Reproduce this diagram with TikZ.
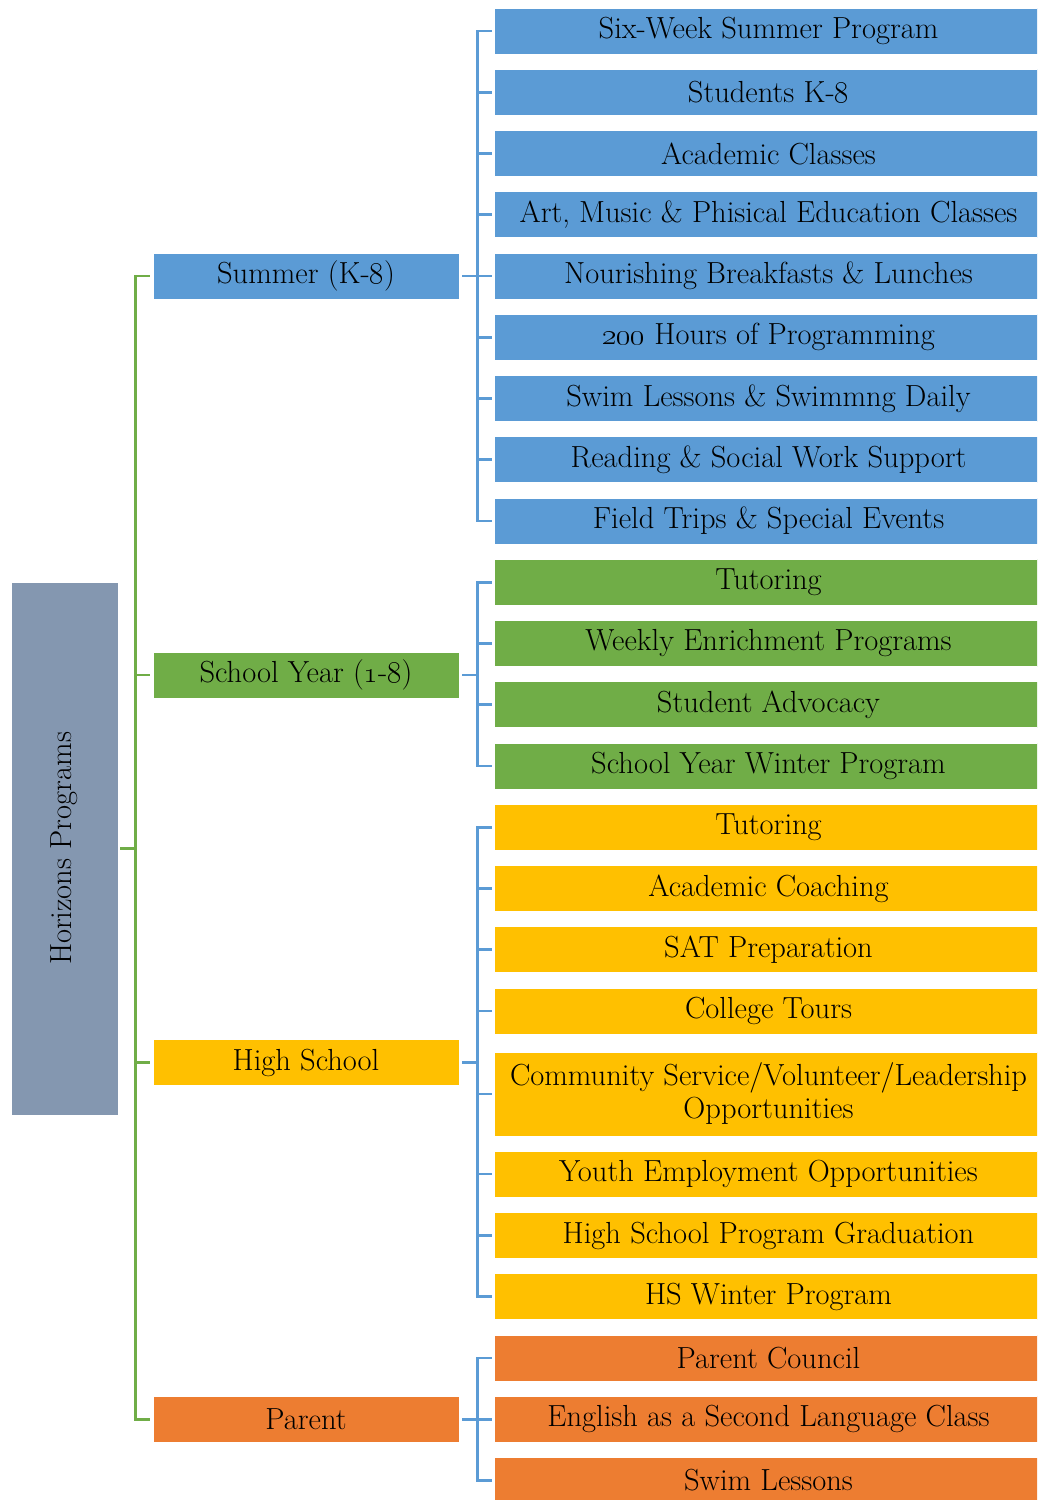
\RequirePackage{fix-cm}
\documentclass[tikz,border=0pt]{standalone}
\usepackage{tikz}

\definecolor{hpblue}{HTML}{5B9BD5}
\definecolor{hpgreen}{HTML}{70AD47}
\definecolor{hpgold}{HTML}{FFC000}
\definecolor{hporange}{HTML}{ED7D31}
\definecolor{hpslate}{HTML}{8497B0}

\begin{document}
\begin{tikzpicture}[
        x=1pt, y=-1pt,
        every node/.style={font=\fontsize{30.5pt}{33pt}\selectfont, text=black, align=center},
        box/.style={draw=white, line width=0.8pt, inner sep=0pt, minimum height=46pt},
        toplevel/.style={box, minimum width=306pt},
        item/.style={box, minimum width=549pt},
        greenline/.style={draw=hpgreen, line width=2.6pt},
        blueline/.style={draw=hpblue, line width=2.6pt}
    ]
        \clip (0,0) rectangle (1037,1500);
        \useasboundingbox (0,0) rectangle (1037,1500);

        % --- Root ---
        \node[box, fill=hpslate, minimum width=107pt, minimum height=533pt] (hp) at (64.5, 848.5) {};
        \node[rotate=90] (hptext) at (hp.center) {Horizons Programs};

        % --- Programs ---
        \node[toplevel, fill=hpblue] (summer) at (306, 276) {Summer (K-\oldstylenums{8})};
        \node[toplevel, fill=hpgreen] (schoolyr) at (306, 675) {School Year (\oldstylenums{1}-\oldstylenums{8})};
        \node[toplevel, fill=hpgold] (highsch) at (306, 1062.5) {High School};
        \node[toplevel, fill=hporange] (parent) at (306, 1419.25) {Parent};

        % --- Summer items ---
        \node[item, fill=hpblue] (s1) at (768.5, 31) {Six-Week Summer Program};
        \node[item, fill=hpblue] (s2) at (768.5, 92.25) {Students K-\oldstylenums{8}};
        \node[item, fill=hpblue] (s3) at (768.5, 153.5) {Academic Classes};
        \node[item, fill=hpblue] (s4) at (768.5, 214.75) {Art, Music \& Phisical Education Classes};
        \node[item, fill=hpblue] (s5) at (768.5, 276) {Nourishing Breakfasts \& Lunches};
        \node[item, fill=hpblue] (s6) at (768.5, 337.25) {\oldstylenums{200} Hours of Programming};
        \node[item, fill=hpblue] (s7) at (768.5, 398.5) {Swim Lessons \& Swimmng Daily};
        \node[item, fill=hpblue] (s8) at (768.5, 459.75) {Reading \& Social Work Support};
        \node[item, fill=hpblue] (s9) at (768.5, 521) {Field Trips \& Special Events};

        % --- School year items ---
        \node[item, fill=hpgreen] (y1) at (768.5, 582.25) {Tutoring};
        \node[item, fill=hpgreen] (y2) at (768.5, 643.5) {Weekly Enrichment Programs};
        \node[item, fill=hpgreen] (y3) at (768.5, 704.75) {Student Advocacy};
        \node[item, fill=hpgreen] (y4) at (768.5, 766) {School Year Winter Program};

        % --- High school items ---
        \node[item, fill=hpgold] (h1) at (768.5, 827.25) {Tutoring};
        \node[item, fill=hpgold] (h2) at (768.5, 888.5) {Academic Coaching};
        \node[item, fill=hpgold] (h3) at (768.5, 949.75) {SAT Preparation};
        \node[item, fill=hpgold] (h4) at (768.5, 1011) {College Tours};
        \node[item, fill=hpgold, minimum height=84pt] (h5) at (768.5, 1094) {Community Service/Volunteer/Leadership\\Opportunities};
        \node[item, fill=hpgold] (h6) at (768.5, 1174) {Youth Employment Opportunities};
        \node[item, fill=hpgold] (h7) at (768.5, 1235.5) {High School Program Graduation};
        \node[item, fill=hpgold] (h8) at (768.5, 1296.75) {HS Winter Program};

        % --- Parent items ---
        \node[item, fill=hporange] (p1) at (768.5, 1358) {Parent Council};
        \node[item, fill=hporange] (p2) at (768.5, 1419.25) {English as a Second Language Class};
        \node[item, fill=hporange] (p3) at (768.5, 1480.5) {Swim Lessons};

        % --- Root connectors ---
        \draw[greenline] ([xshift=2pt]hp.east) -- ([xshift=17pt]hp.east);
        \draw[greenline] ([xshift=-3pt]summer.west) -| ([xshift=17pt]hp.east)
            ([xshift=-3pt]schoolyr.west) -| ([xshift=17pt]hp.east)
            ([xshift=-3pt]highsch.west) -| ([xshift=17pt]hp.east)
            ([xshift=-3pt]parent.west) -| ([xshift=17pt]hp.east);

        % --- Summer connectors ---
        \draw[blueline] ([xshift=3pt]summer.east) -- ([xshift=18pt]summer.east);
        \draw[blueline] ([xshift=-2pt]s1.west) -| ([xshift=18pt]summer.east)
            ([xshift=-2pt]s2.west) -| ([xshift=18pt]summer.east)
            ([xshift=-2pt]s3.west) -| ([xshift=18pt]summer.east)
            ([xshift=-2pt]s4.west) -| ([xshift=18pt]summer.east)
            ([xshift=-2pt]s5.west) -| ([xshift=18pt]summer.east)
            ([xshift=-2pt]s6.west) -| ([xshift=18pt]summer.east)
            ([xshift=-2pt]s7.west) -| ([xshift=18pt]summer.east)
            ([xshift=-2pt]s8.west) -| ([xshift=18pt]summer.east)
            ([xshift=-2pt]s9.west) -| ([xshift=18pt]summer.east);

        % --- School year connectors ---
        \draw[blueline] ([xshift=3pt]schoolyr.east) -- ([xshift=18pt]schoolyr.east);
        \draw[blueline] ([xshift=-2pt]y1.west) -| ([xshift=18pt]schoolyr.east)
            ([xshift=-2pt]y2.west) -| ([xshift=18pt]schoolyr.east)
            ([xshift=-2pt]y3.west) -| ([xshift=18pt]schoolyr.east)
            ([xshift=-2pt]y4.west) -| ([xshift=18pt]schoolyr.east);

        % --- High school connectors ---
        \draw[blueline] ([xshift=3pt]highsch.east) -- ([xshift=18pt]highsch.east);
        \draw[blueline] ([xshift=-2pt]h1.west) -| ([xshift=18pt]highsch.east)
            ([xshift=-2pt]h2.west) -| ([xshift=18pt]highsch.east)
            ([xshift=-2pt]h3.west) -| ([xshift=18pt]highsch.east)
            ([xshift=-2pt]h4.west) -| ([xshift=18pt]highsch.east)
            ([xshift=-2pt]h5.west) -| ([xshift=18pt]highsch.east)
            ([xshift=-2pt]h6.west) -| ([xshift=18pt]highsch.east)
            ([xshift=-2pt]h7.west) -| ([xshift=18pt]highsch.east)
            ([xshift=-2pt]h8.west) -| ([xshift=18pt]highsch.east);

        % --- Parent connectors ---
        \draw[blueline] ([xshift=3pt]parent.east) -- ([xshift=18pt]parent.east);
        \draw[blueline] ([xshift=-2pt]p1.west) -| ([xshift=18pt]parent.east)
            ([xshift=-2pt]p2.west) -| ([xshift=18pt]parent.east)
            ([xshift=-2pt]p3.west) -| ([xshift=18pt]parent.east);
    \end{tikzpicture}
\end{document}
